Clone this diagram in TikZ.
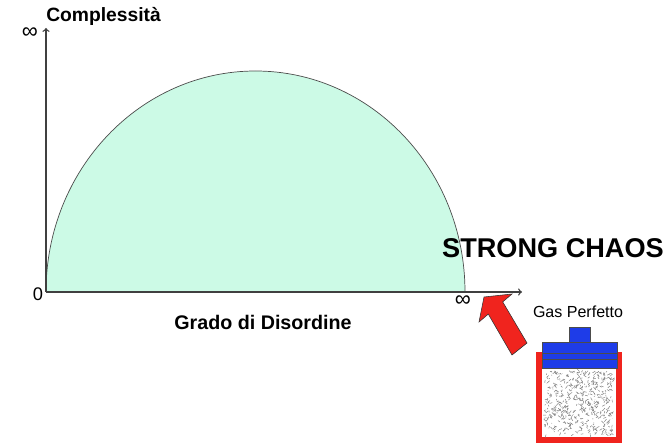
\documentclass[tikz,border=0pt]{standalone}
\usepackage{fontspec}
\setmainfont{Liberation Sans}
\usepackage{tikz}
\usetikzlibrary{arrows,shapes}
\definecolor{mint}{RGB}{204,250,230}
\definecolor{pistonblue}{RGB}{30,60,232}
\definecolor{boxred}{RGB}{240,36,30}
\tikzstyle{axis}=[draw=black!75,line width=0.9pt,->,>=to]
\tikzstyle{axistitle}=[font=\bfseries\fontsize{14}{16}\selectfont,inner sep=0pt]
\tikzstyle{tick}=[font=\fontsize{13}{15}\selectfont,inner sep=0pt]
\tikzstyle{part}=[fill=pistonblue,draw=black!70,line width=0.4pt]

\begin{document}
\begin{tikzpicture}[x=0.025cm,y=-0.025cm]
        \useasboundingbox (0,0) rectangle (671,444);
        \coordinate (o) at (46,292);
        \coordinate (ytop) at (46,28);
        \coordinate (xend) at (522,292);
        % half ellipse of complexity
        \filldraw[fill=mint,draw=black!70,line width=0.5pt]
            (46,292) arc[start angle=180,end angle=0,x radius=209.5,y radius=-221];
        \draw[axis] (o) -- (ytop);
        \draw[axis] (o) -- (xend);
        \node[axistitle,anchor=west] (comp) at (46,16) {\fontsize{13.7}{16}\selectfont Complessità};
        \node[axistitle] (grado) at (263,322) {Grado di Disordine};
        \node[tick] (yinf) at (30,33) {\fontsize{16}{16}\selectfont ∞};
        \node[tick] (zero) at (38,294) {0};
        \node[tick] (xinf) at (463,301) {\fontsize{16}{16}\selectfont ∞};
        \node[font=\bfseries\fontsize{19.3}{22}\selectfont,inner sep=0pt] (chaos) at (553,248) {STRONG CHAOS};
        \node[font=\fontsize{11.4}{13}\selectfont,inner sep=0pt] (gas) at (578,312) {Gas Perfetto};
        % red arrow toward the end of the axis
        \filldraw[fill=boxred,draw=black!80,line width=0.4pt]
            (484,297) -- (512,294) -- (502.7,301.9) -- (527,343)
            -- (512,355) -- (488.3,314.1) -- (479,322) -- cycle;
        % container with piston
        \fill[white] (539,355) rectangle (619,440);
        \draw[boxred,line width=3.6pt] (539,355) rectangle (619,440);
        \pgfmathsetseed{11}
        \foreach \i in {1,...,520} {
          \pgfmathsetmacro{\px}{545+68*rnd}
          \pgfmathsetmacro{\py}{371+64*rnd}
          \draw[black!50,line width=0.35pt] (\px,\py) -- ++(3*rand,3*rand);
        }
        \filldraw[part] (569,327) rectangle (590,342);
        \filldraw[part] (542,342) rectangle (617,368);
        \draw[black!70,line width=0.5pt] (542,353) -- (617,353);
        \draw[black!70,line width=0.5pt] (542,359) -- (617,359);
      \end{tikzpicture}
\end{document}
